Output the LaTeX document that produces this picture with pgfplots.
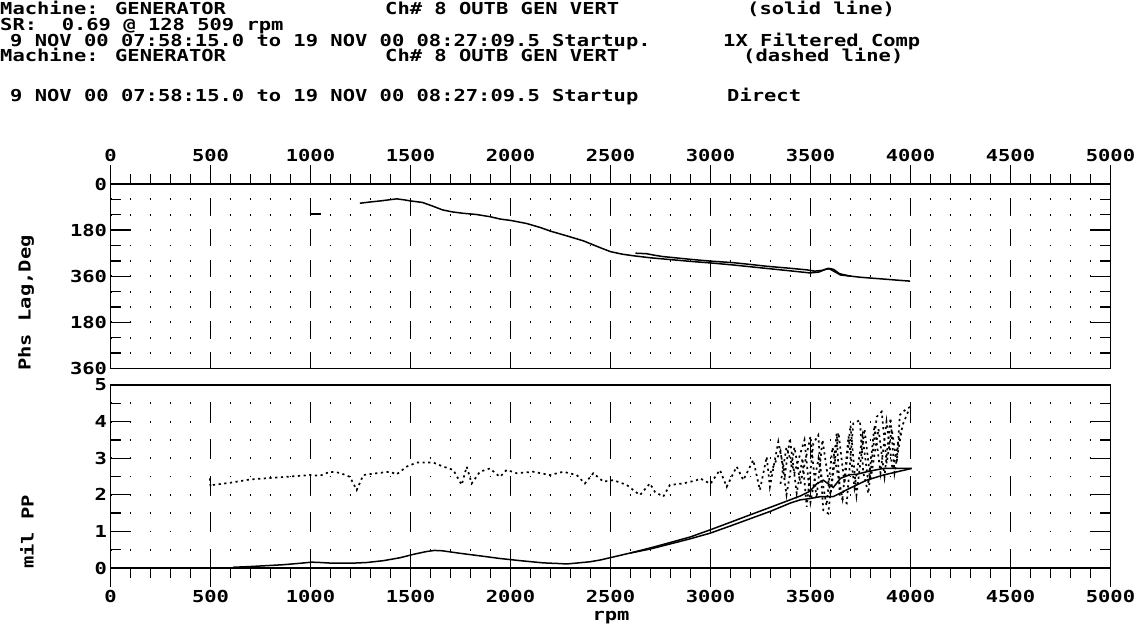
\documentclass[border=0pt]{standalone}
\usepackage{fontspec}
\setmainfont{DejaVu Sans Mono}[FakeStretch=1.24]
\usepackage{pgfplots}
\pgfplotsset{compat=1.18}
\newcommand{\pf}{\bfseries\fontsize{16.5}{18}\selectfont}
\pgfplotsset{
 panel/.style={
   scale only axis, width=1000pt, xmin=0, xmax=5000,
   xtick={0,500,...,5000}, minor x tick num=4,
   xtick align=outside, ytick align=inside,
   major tick length=19pt, minor tick length=10pt,
   tick style={black, line width=1.3pt},
   axis line style={line width=1.6pt},
   tick label style={font=\pf},
   /pgf/number format/assume math mode=true,
   /pgf/number format/set thousands separator={},
   scaled x ticks=false,
   xmajorgrids, yminorgrids,
   minor grid style={black, line width=1.8pt, dash pattern=on 1.8pt off 18.2pt, dash phase=0.9pt},
 },
 solidc/.style={black, line width=1.5pt},
 dotc/.style={black, line width=1.7pt, dash pattern=on 2.2pt off 3.5pt},
}
\begin{document}
\begin{tikzpicture}
\useasboundingbox (0,0) rectangle (1138pt,-626pt);
\begin{scope}[every node/.style={inner sep=0pt, font=\pf}]
\node[anchor=base west] at (0pt,-15pt) {Machine: GENERATOR};
\node[anchor=base west] at (385pt,-15pt) {Ch\# 8 OUTB GEN VERT};
\node[anchor=base west] at (747pt,-15pt) {(solid line)};
\node[anchor=base west] at (0pt,-31pt) {SR:\ \ 0.69 @ 128 509 rpm};
\node[anchor=base west] at (10pt,-47pt) {9 NOV 00 07:58:15.0 to 19 NOV 00 08:27:09.5 Startup.};
\node[anchor=base west] at (723pt,-47pt) {1X Filtered Comp};
\node[anchor=base west] at (0pt,-62pt) {Machine: GENERATOR};
\node[anchor=base west] at (385pt,-62pt) {Ch\# 8 OUTB GEN VERT};
\node[anchor=base west] at (743pt,-62pt) {(dashed line)};
\node[anchor=base west] at (10pt,-101pt) {9 NOV 00 07:58:15.0 to 19 NOV 00 08:27:09.5 Startup};
\node[anchor=base west] at (727pt,-101pt) {Direct};
\node[rotate=90] at (26pt,-303pt) {Phs Lag,Deg};
\node[rotate=90] at (27pt,-532pt) {mil PP};
\node[anchor=base] at (611pt,-620pt) {rpm};
\end{scope}

\begin{axis}[panel, at={(110.5pt,-184pt)}, anchor=north west, height=184.5pt,
  ymin=0, ymax=720, y dir=reverse,
  ytick={0,180,...,720}, yticklabels={0,180,360,180,360},
  minor ytick={60,120,...,660},
  xtick pos=right, xticklabel pos=right,
  major grid style={black, line width=1.6pt, dash pattern=on 15.375pt off 15.375pt, dash phase=15.375pt},
]
\addplot[solidc] coordinates {(1247,75)(1300,70)(1350,66)(1400,61)(1431,58)(1470,62)(1500,66)(1560,72)(1610,86)(1660,101)(1710,109)(1760,114)(1830,119)(1900,128)(1950,137)(2000,142)(2080,154)(2150,170)(2200,184)(2280,202)(2365,222)(2447,248)(2500,264)(2560,274)(2614,280)(2700,288)(2800,295)(2900,302)(3000,308)(3114,316)(3200,323)(3300,331)(3400,339)(3497,347)(3540,344)(3575,333)(3595,331)(3620,342)(3650,355)(3750,364)(3850,370)(3947,376)(3998,379)};
\addplot[solidc] coordinates {(2625,270)(2680,272)(2720,278)(2760,283)(2900,294)(3000,301)(3114,307)(3200,314)(3281,321)(3400,329)(3481,335)(3520,340)(3560,337)(3589,329)(3615,333)(3645,350)(3700,360)};
\addplot[solidc] coordinates {(1000,117)(1052,117)};
\end{axis}

\begin{axis}[panel, at={(110.5pt,-385pt)}, anchor=north west, height=183pt,
  ymin=0, ymax=5, ytick={0,1,...,5},
  minor ytick={0.5,1,...,4.5},
  xtick pos=left, xticklabel pos=left,
  major grid style={black, line width=1.6pt, dash pattern=on 19pt off 17.6pt},
]
\addplot[solidc] coordinates {(613,0.02)(700,0.04)(800,0.07)(864,0.09)(950,0.13)(1006,0.16)(1050,0.15)(1114,0.13)(1200,0.13)(1281,0.15)(1364,0.2)(1447,0.28)(1520,0.38)(1580,0.45)(1620,0.48)(1660,0.47)(1750,0.4)(1850,0.33)(1947,0.26)(2050,0.2)(2164,0.14)(2250,0.12)(2281,0.11)(2340,0.14)(2397,0.17)(2450,0.22)(2497,0.28)(2560,0.36)(2614,0.43)(2700,0.55)(2781,0.67)(2900,0.85)(2997,1.04)(3100,1.25)(3197,1.45)(3300,1.66)(3397,1.86)(3450,1.97)(3497,2.1)(3531,2.3)(3564,2.4)(3614,2.2)(3650,2.45)(3697,2.55)(3731,2.56)(3781,2.63)(3864,2.72)(3950,2.72)(4006,2.72)};
\addplot[solidc] coordinates {(2600,0.41)(2700,0.52)(2800,0.66)(2900,0.8)(2997,0.95)(3100,1.15)(3200,1.35)(3300,1.55)(3397,1.77)(3447,1.86)(3500,1.9)(3550,1.95)(3614,1.95)(3697,2.18)(3781,2.4)(3864,2.54)(3950,2.65)(4006,2.72)};
\addplot[dotc] coordinates {(497,2.45)(500,2.22)(514,2.27)(600,2.33)(698,2.42)(800,2.46)(900,2.5)(998,2.54)(1047,2.52)(1097,2.63)(1147,2.6)(1197,2.49)(1231,2.13)(1264,2.54)(1331,2.59)(1397,2.63)(1431,2.56)(1481,2.77)(1531,2.88)(1614,2.88)(1664,2.77)(1714,2.68)(1756,2.27)(1781,2.77)(1806,2.31)(1847,2.63)(1897,2.72)(1947,2.49)(1981,2.68)(2031,2.59)(2114,2.63)(2197,2.54)(2264,2.63)(2331,2.54)(2372,2.31)(2414,2.59)(2464,2.36)(2514,2.4)(2581,2.27)(2647,1.99)(2697,2.31)(2722,2.08)(2764,1.95)(2797,2.27)(2864,2.31)(2931,2.4)(2947,2.45)(3000,2.3)(3047,2.68)(3081,2.22)(3131,2.77)(3164,2.4)(3214,2.95)(3247,2.13)(3281,3.04)(3297,2.22)(3339,3.45)(3372,2.54)(3397,3.54)(3431,2.04)(3460,3.0)(3481,1.67)(3514,3.4)(3539,3.63)(3564,1.58)(3589,1.49)(3631,3.68)(3647,1.95)(3681,1.77)(3714,3.95)(3747,4.04)(3764,2.6)(3789,2.04)(3831,4.13)(3856,4.27)(3881,2.86)(3906,3.8)(3931,2.86)(3947,4.18)(3981,4.36)(4006,4.41)};
\addplot[dotc] coordinates {(3300,2.6)(3350,3.2)(3380,2.0)(3420,3.3)(3450,2.3)(3500,3.6)(3530,1.9)(3560,3.5)(3600,2.0)(3640,3.7)(3670,2.3)(3700,3.9)(3730,2.0)(3770,3.8)(3800,2.4)(3840,3.8)(3870,2.5)(3900,4.1)(3920,2.6)(3960,3.9)(3990,4.3)};
\addplot[dotc] coordinates {(3350,2.3)(3380,3.3)(3420,2.6)(3470,3.5)(3500,1.8)(3540,3.0)(3580,1.7)(3610,3.3)(3660,1.9)(3690,3.6)(3720,2.2)(3760,3.6)(3790,2.3)(3820,3.9)(3850,2.6)(3880,4.0)(3910,2.7)(3950,3.7)};
\end{axis}
\end{tikzpicture}
\end{document}
